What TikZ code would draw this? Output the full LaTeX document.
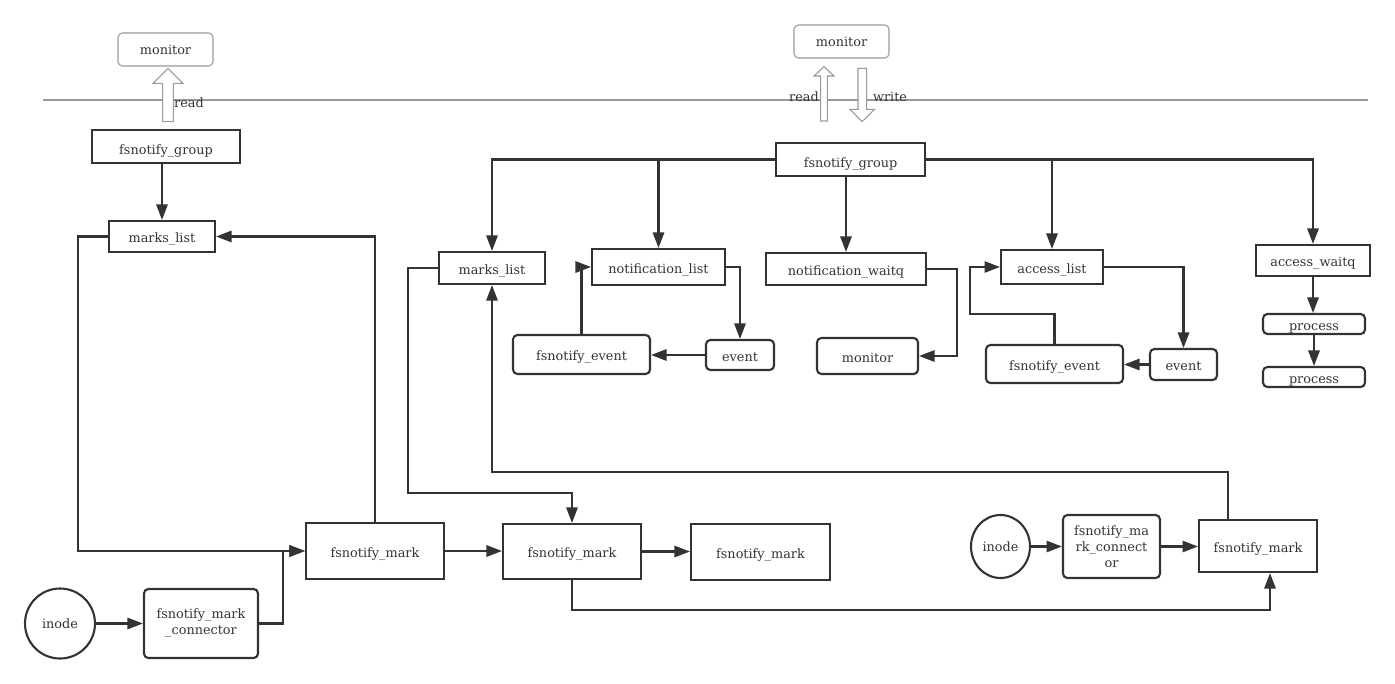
\documentclass[tikz,border=0pt]{standalone}
\usepackage{fontspec}
\setmainfont{DejaVu Serif}
\usetikzlibrary{arrows.meta,positioning,shapes.geometric}
\definecolor{linec}{HTML}{333333}
\definecolor{greyc}{HTML}{999999}

\begin{document}
\begin{tikzpicture}[x=0.02cm,y=-0.02cm,font=\fontsize{7.3}{9}\selectfont,
  wh/.style 2 args={minimum width=#1*0.02cm,minimum height=#2*0.02cm}]
\tikzstyle{box}=[rectangle,draw=linec,line width=1.2pt,inner sep=1pt,text=linec,text height=7pt,text depth=0pt]
\tikzstyle{rbox}=[box,rounded corners=2.5pt]
\tikzstyle{ubox}=[rbox,draw=greyc,line width=0.6pt]
\tikzstyle{circ}=[ellipse,draw=linec,line width=1.2pt,inner sep=0pt,text=linec]
\tikzstyle{arr}=[draw=linec,line width=1.2pt,-{Triangle[length=8.8pt,width=6.4pt]}]
\tikzstyle{hollow}=[draw=greyc,line width=0.6pt,fill=white]
\tikzstyle{lbl}=[inner sep=0pt,text=linec]
\useasboundingbox (0,0) rectangle (1395,683);

% user space
\draw[draw=greyc,line width=0.6pt] (43,100) -- (1368,100);
\node[ubox,wh={95}{33},text height=6pt] (mon1) at (165.5,49.5) {monitor};
\node[ubox,wh={95}{33},text height=6pt] (mon2) at (841.5,41.5) {monitor};
\draw[hollow] (162.7,121.7) -- (162.7,83.3) -- (153,83.3) -- (168,68.3) -- (183,83.3) -- (173.3,83.3) -- (173.3,121.7) -- cycle;
\draw[hollow] (820.7,121) -- (820.7,76) -- (814,76) -- (824,66.7) -- (834,76) -- (827.3,76) -- (827.3,121) -- cycle;
\draw[hollow] (858,68.3) -- (858,109.3) -- (850,109.3) -- (862,121.7) -- (874.7,109.3) -- (866.7,109.3) -- (866.7,68.3) -- cycle;
\node[lbl] (rd1) at (189,103) {read};
\node[lbl] (rd2) at (804,96.5) {read};
\node[lbl] (wr2) at (890,96.5) {write};

% left group
\node[box,wh={148}{33},text height=9pt] (gp1) at (166,146.5) {fsnotify\_group};
\node[box,wh={106}{31}] (ml1) at (162,236.5) {marks\_list};
\node[box,wh={138}{56}] (mk1) at (375,551) {fsnotify\_mark};
\node[box,wh={138}{55}] (mk2) at (572,551.5) {fsnotify\_mark};
\node[box,wh={139}{56}] (mk3) at (760.5,552) {fsnotify\_mark};
\node[circ,wh={70}{70}] (in1) at (60,623.5) {inode};
\node[rbox,wh={114}{69},align=center,text height=,text depth=] (cn1) at (201,623.5) {fsnotify\_mark\\\_connector};

\draw[arr] (gp1.south -| ml1.north) -- (ml1.north);
\draw[arr] (mk1.north) |- (ml1.east);
\draw[arr] (ml1.west) -- ++(-30,0) |- (mk1.west);
\draw[arr] (in1.east) -- (cn1.west);
\draw[arr] (cn1.east) -- ++(24,0) |- (mk1.west);
\draw[arr] (mk1.east) -- (mk1.east -| mk2.west);
\draw[arr] (mk2.east) -- (mk2.east -| mk3.west);

% right group
\node[box,wh={149}{33},text height=9pt] (gp2) at (850.5,159.5) {fsnotify\_group};
\node[box,wh={106}{32}] (ml2) at (492,268) {marks\_list};
\node[box,wh={133}{36}] (nl) at (658.5,267) {notification\_list};
\node[box,wh={160}{32}] (nw) at (846,269) {notification\_waitq};
\node[box,wh={102}{34}] (al) at (1052,267) {access\_list};
\node[box,wh={114}{31}] (aw) at (1313,260.5) {access\_waitq};
\node[rbox,wh={137}{39}] (fe1) at (581.5,354.5) {fsnotify\_event};
\node[rbox,wh={68}{30}] (ev1) at (740,355) {event};
\node[rbox,wh={101}{36}] (mon3) at (867.5,356) {monitor};
\node[rbox,wh={137}{38}] (fe2) at (1054.5,364) {fsnotify\_event};
\node[rbox,wh={67}{31}] (ev2) at (1183.5,364.5) {event};
\node[rbox,wh={102}{20},inner sep=0pt] (pr1) at (1314,324) {process};
\node[rbox,wh={102}{20},inner sep=0pt] (pr2) at (1314,377) {process};

\draw[arr] (gp2.west) -| (ml2.north);
\draw[arr] (gp2.west) -| (nl.north);
\draw[arr] (gp2.south -| nw.north) -- (nw.north);
\draw[arr] (gp2.east) -| (al.north);
\draw[arr] (gp2.east) -| (aw.north);
\draw[arr] (nl.east) -| (ev1.north);
\draw[arr] (ev1.west) -- (ev1.west -| fe1.east);
\draw[arr] (fe1.north) |- (nl.west);
\draw[arr] (nw.east) -- ++(30,0) |- (mon3.east);
\draw[arr] (al.east) -| (ev2.north);
\draw[arr] (ev2.west) -- (ev2.west -| fe2.east);
\draw[arr] (fe2.north) -- ++(0,-30) -| ([xshift=-0.6cm]al.west) -- (al.west);
\draw[arr] (aw.south) -- (aw.south |- pr1.north);
\draw[arr] (pr1.south) -- (pr2.north);

% inode on the right
\node[circ,wh={59}{63}] (in2) at (1000.5,546.5) {inode};
\node[rbox,wh={97}{63},align=center,text height=,text depth=] (cn2) at (1111.5,546.5) {fsnotify\_ma\\rk\_connect\\or};
\node[box,wh={118}{52}] (mk4) at (1258,546) {fsnotify\_mark};

\draw[arr] (in2.east) -- (cn2.west);
\draw[arr] (cn2.east) -- (cn2.east -| mk4.west);
\draw[arr] (ml2.west) -- ++(-30,0) -- ++(0,225) -| (mk2.north);
\draw[arr] ([xshift=-0.6cm]mk4.north) -- ++(0,-47) -| (ml2.south);
\draw[arr] (mk2.south) -- ++(0,30) -| ([xshift=0.24cm]mk4.south);
\end{tikzpicture}
\end{document}
